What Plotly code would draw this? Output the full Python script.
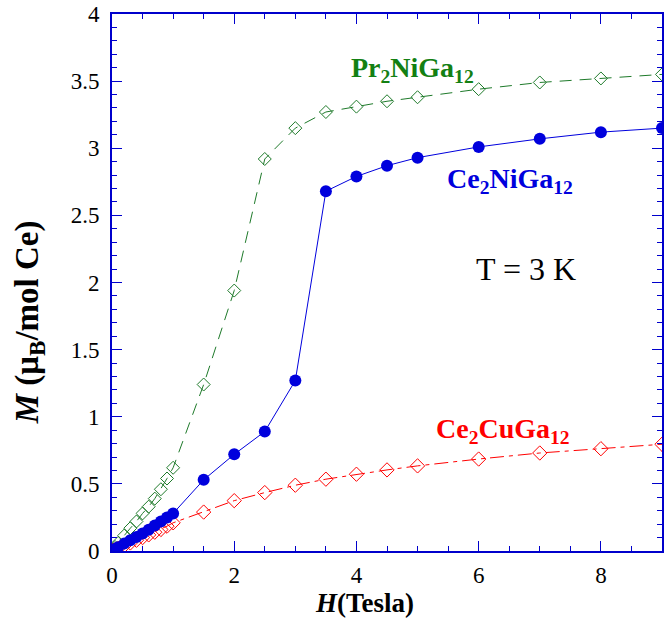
import plotly.graph_objects as go

# Magnetization isotherms at T = 3 K
h_ce_ni = [0, 0.02, 0.05, 0.1, 0.2, 0.3, 0.4, 0.5, 0.6, 0.7, 0.8, 0.9, 1.0,
           1.5, 2.0, 2.5, 3.0, 3.5, 4.0, 4.5, 5.0, 6.0, 7.0, 8.0, 9.0]
m_ce_ni = [0, 0.006, 0.014, 0.028, 0.055, 0.08, 0.105, 0.13, 0.158, 0.19, 0.22, 0.25, 0.28,
           0.53, 0.72, 0.89, 1.27, 2.68, 2.79, 2.87, 2.93, 3.01, 3.07, 3.12, 3.15]

h_pr_ni = [0, 0.02, 0.05, 0.1, 0.2, 0.3, 0.4, 0.5, 0.6, 0.7, 0.8, 0.9, 1.0,
           1.5, 2.0, 2.5, 3.0, 3.5, 4.0, 4.5, 5.0, 6.0, 7.0, 8.0, 9.0]
m_pr_ni = [0, 0.012, 0.03, 0.06, 0.115, 0.17, 0.22, 0.28, 0.33, 0.39, 0.46, 0.54, 0.62,
           1.24, 1.94, 2.92, 3.15, 3.27, 3.31, 3.35, 3.38, 3.44, 3.49, 3.52, 3.55]

h_ce_cu = [0, 0.02, 0.05, 0.1, 0.2, 0.3, 0.4, 0.5, 0.6, 0.7, 0.8, 0.9, 1.0,
           1.5, 2.0, 2.5, 3.0, 3.5, 4.0, 4.5, 5.0, 6.0, 7.0, 8.0, 9.0]
m_ce_cu = [0, 0.004, 0.01, 0.02, 0.04, 0.06, 0.08, 0.1, 0.12, 0.14, 0.16, 0.185, 0.21,
           0.29, 0.375, 0.435, 0.49, 0.535, 0.572, 0.604, 0.634, 0.685, 0.73, 0.762, 0.795]

x_ticks = [0, 2, 4, 6, 8]
y_ticks = [0, 0.5, 1, 1.5, 2, 2.5, 3, 3.5, 4]
y_tick_text = ["0", "0.5", "1", "1.5", "2", "2.5", "3", "3.5", "4"]

BLUE = "#0000dd"
GREEN = "#1e7a2a"
RED = "#ff0000"
AXIS = "#0000cc"
SERIF = "Liberation Serif"

# plot-area geometry in pixels, used to place the paper-referenced titles
PLOT_L, PLOT_T, PLOT_W, PLOT_H = 112, 14, 552, 537

fig = go.Figure()

fig.add_trace(go.Scatter(
    x=h_pr_ni, y=m_pr_ni, mode="lines+markers",
    line=dict(color=GREEN, width=1, dash="12px,8px"),
    marker=dict(symbol="diamond-open", size=10, color=GREEN, line=dict(width=1)),
    showlegend=False))

fig.add_trace(go.Scatter(
    x=h_ce_cu, y=m_ce_cu, mode="lines+markers",
    line=dict(color=RED, width=1, dash="14px,5px,4px,5px"),
    marker=dict(symbol="diamond-open", size=11, color=RED, line=dict(width=1)),
    showlegend=False))

fig.add_trace(go.Scatter(
    x=h_ce_ni, y=m_ce_ni, mode="lines+markers",
    line=dict(color=BLUE, width=1),
    marker=dict(symbol="circle", size=12, color=BLUE),
    showlegend=False))

label_font = dict(family=SERIF, size=28)
fig.add_annotation(x=4.91, y=3.59, xref="x", yref="y", showarrow=False,
                   text="<b>Pr<sub>2</sub>NiGa<sub>12</sub></b>",
                   font=dict(label_font, color="#138013"))
fig.add_annotation(x=6.52, y=2.76, xref="x", yref="y", showarrow=False,
                   text="<b>Ce<sub>2</sub>NiGa<sub>12</sub></b>",
                   font=dict(label_font, color=BLUE))
fig.add_annotation(x=6.78, y=2.1, xref="x", yref="y", showarrow=False,
                   text="T = 3 K", font=dict(family=SERIF, size=32, color="black"))
fig.add_annotation(x=6.4, y=0.9, xref="x", yref="y", showarrow=False,
                   text="<b>Ce<sub>2</sub>CuGa<sub>12</sub></b>",
                   font=dict(label_font, color=RED))

# Axis titles
fig.add_annotation(x=(365 - PLOT_L) / PLOT_W, y=-(603 - 551) / PLOT_H,
                   xref="paper", yref="paper", showarrow=False,
                   xanchor="center", yanchor="middle",
                   text="<b><i>H</i>(Tesla)</b>", font=dict(family=SERIF, size=27, color="black"))
fig.add_annotation(x=-(PLOT_L - 29) / PLOT_W, y=(551 - 322) / PLOT_H,
                   xref="paper", yref="paper", showarrow=False, textangle=-90,
                   xanchor="center", yanchor="middle",
                   text="<b><i>M</i> (μ<sub>B</sub>/mol Ce)</b>",
                   font=dict(family=SERIF, size=33, color="black"))

fig.update_xaxes(
    range=[0, 9], tickvals=x_ticks, ticks="inside", ticklen=10, tickwidth=1,
    tickcolor=AXIS, showline=True, linecolor=AXIS, linewidth=2, mirror="allticks",
    showgrid=False, zeroline=False, ticklabelstandoff=2,
    tickfont=dict(family=SERIF, size=23, color="black"),
    minor=dict(dtick=0.5, ticks="inside", ticklen=5, tickcolor=AXIS, showgrid=False))
fig.update_yaxes(
    range=[0, 4], tickvals=y_ticks, ticktext=y_tick_text, ticks="inside", ticklen=10,
    tickwidth=1, tickcolor=AXIS, showline=True, linecolor=AXIS, linewidth=2,
    mirror="allticks", showgrid=False, zeroline=False, ticklabelstandoff=6,
    tickfont=dict(family=SERIF, size=23, color="black"),
    minor=dict(dtick=0.1, ticks="inside", ticklen=5, tickcolor=AXIS, showgrid=False))

fig.update_layout(
    width=665, height=637,
    margin=dict(l=PLOT_L, r=1, t=PLOT_T, b=637 - PLOT_T - PLOT_H),
    font=dict(family=SERIF),
    plot_bgcolor="white", paper_bgcolor="white")

fig.write_html("out.html")
